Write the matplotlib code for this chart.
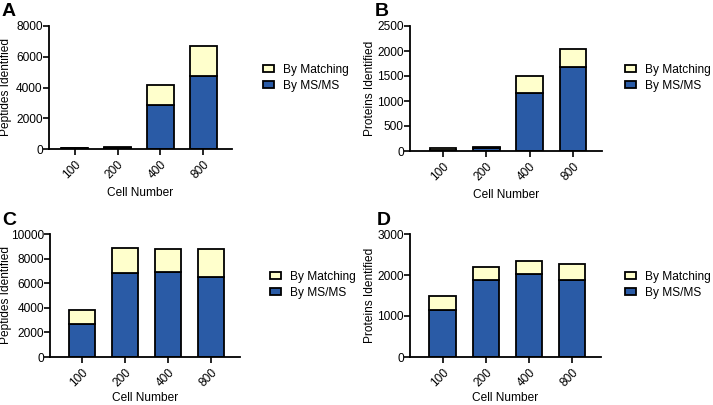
import numpy as np
import matplotlib
matplotlib.use("Agg")
import matplotlib.pyplot as plt

plt.rcParams['font.family'] = ['Liberation Sans', 'DejaVu Sans']
plt.rcParams['font.size'] = 8.6

cells = ['100', '200', '400', '800']

# panel A: peptides
pep_a_msms = [40, 90, 2850, 4750]
pep_a_total = [60, 120, 4150, 6700]
# panel B: proteins
prot_b_msms = [20, 65, 1170, 1680]
prot_b_total = [55, 90, 1500, 2030]
# panel C: peptides
pep_c_msms = [2700, 6850, 6950, 6500]
pep_c_total = [3800, 8850, 8800, 8800]
# panel D: proteins
prot_d_msms = [1150, 1880, 2020, 1870]
prot_d_total = [1480, 2200, 2340, 2260]

blue = '#2a5ba6'
yellow = '#ffffcc'

W, H = 713, 405
fig = plt.figure(figsize=(W / 100, H / 100), dpi=100)

def px(x0, y0, x1, y1):
    # pixel box (top-left origin) -> figure fraction rect
    return [x0 / W, 1 - y1 / H, (x1 - x0) / W, (y1 - y0) / H]

panels = [
    ('A', (49, 26, 232, 149), pep_a_msms, pep_a_total, 'Peptides Identified', 8000, 2000, (-0.6, 3.67), (263, 78), 6, (2, 3), 4),
    ('B', (410, 26, 602, 151), prot_b_msms, prot_b_total, 'Proteins Identified', 2500, 500, (-0.76, 3.67), (625, 78), 370, (375, 3), 4),
    ('C', (50, 234, 240, 357), pep_c_msms, pep_c_total, 'Peptides Identified', 10000, 2000, (-0.74, 3.67), (270, 285), 6, (2, 212), 2),
    ('D', (410, 234, 601, 357), prot_d_msms, prot_d_total, 'Proteins Identified', 3000, 1000, (-0.76, 3.67), (625, 285), 370, (377, 212), 2),
]

for letter, box, msms, total, ylabel, ymax, ystep, xlim, legpx, ylab_x, let_px, xpad in panels:
    ax = fig.add_axes(px(*box))
    x = np.arange(len(cells))
    msms = np.array(msms)
    match = np.array(total) - msms
    b1 = ax.bar(x, msms, width=0.62, color=blue, edgecolor='black', linewidth=1.3)
    b2 = ax.bar(x, match, bottom=msms, width=0.62, color=yellow, edgecolor='black', linewidth=1.3)
    ax.set_xlim(*xlim)
    ax.set_ylim(0, ymax)
    ax.set_yticks(np.arange(0, ymax + 1, ystep))
    ax.set_xticks(x)
    ax.set_xticklabels(cells, rotation=45, ha='right', rotation_mode='anchor')
    ax.set_ylabel(ylabel)
    ax.yaxis.set_label_coords((ylab_x - box[0]) / (box[2] - box[0]), 0.5)
    ax.yaxis.label.set_va('center')
    ax.set_xlabel('Cell Number', labelpad=xpad)
    for s in ['top', 'right']:
        ax.spines[s].set_visible(False)
    for s in ['left', 'bottom']:
        ax.spines[s].set_linewidth(1.3)
    ax.tick_params(width=1.2, length=4)
    ax.tick_params(axis='y', pad=0.5)
    ax.tick_params(axis='x', pad=3)
    fig.legend([b2, b1], ['By Matching', 'By MS/MS'], loc='center left',
               bbox_to_anchor=(legpx[0] / W, 1 - legpx[1] / H), frameon=False,
               handlelength=0.95, handleheight=0.55, handletextpad=0.75,
               labelspacing=0.35, borderpad=0, borderaxespad=0)
    fig.text(let_px[0] / W, 1 - let_px[1] / H, letter, fontsize=14,
             fontweight='bold', va='top', ha='left')

fig.savefig('out.png', dpi=100)
